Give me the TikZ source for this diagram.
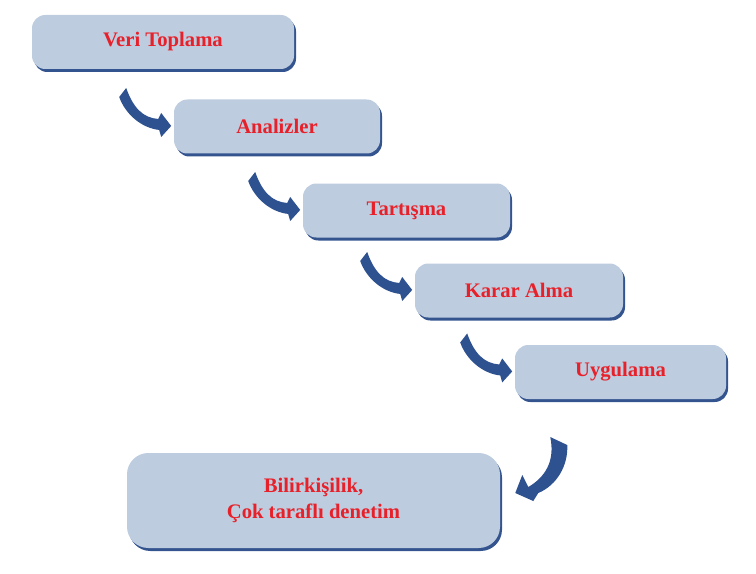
\documentclass[tikz,border=0pt]{standalone}
\usepackage{fontspec}
\setmainfont{Liberation Serif}
\usepackage{tikz}
\usetikzlibrary{shadows}
\definecolor{boxfill}{HTML}{BDCDDF}
\definecolor{boxshade}{HTML}{34548F}
\definecolor{arrowblue}{HTML}{2E5190}
\definecolor{steptext}{HTML}{E8202A}

\begin{document}
\begin{tikzpicture}[x=0.75pt, y=-0.75pt,
  stepbox/.style={fill=boxfill, rounded corners=10pt, minimum height=40.5pt,
    inner sep=0pt, text=steptext, align=center,
    font=\bfseries\fontsize{15.5}{20}\selectfont,
    drop shadow={shadow xshift=1.5pt, shadow yshift=-2.25pt, fill=boxshade, opacity=1}}]
\useasboundingbox (0,0) rectangle (756,574);
%%%%% Boxes %%%%%
\node[stepbox, minimum width=196.5pt] (b1) at (163,42) {Veri Toplama};
\node[stepbox, minimum width=154.5pt] (b2) at (277,126.5) {Analizler};
\node[stepbox, minimum width=155.25pt] (b3) at (406.5,210.5) {Tartışma};
\node[stepbox, minimum width=156pt] (b4) at (519,290.5) {Karar Alma};
\node[stepbox, minimum width=158.25pt] (b5) at (620.5,372) {Uygulama};
\node[stepbox, minimum width=279.75pt, minimum height=71.25pt, rounded corners=16pt] (b6) at (313.5,500.5) {Bilirkişilik,\\Çok taraflı denetim};
%%%%% Arrows %%%%%
\fill[arrowblue, shift={(b2.west)}, xshift=-1.9pt, yshift=0.4pt] (-45,-38) -- (-52,-29) .. controls (-46,-12) and (-30,2) .. (-12,4) -- (-10,11) -- (0,0) -- (-10,-13) -- (-13,-7) .. controls (-28,-8) and (-38,-18) .. (-45,-38) -- cycle;
\fill[arrowblue, shift={(b3.west)}, xshift=-1.9pt, yshift=0.4pt] (-45,-38) -- (-52,-29) .. controls (-46,-12) and (-30,2) .. (-12,4) -- (-10,11) -- (0,0) -- (-10,-13) -- (-13,-7) .. controls (-28,-8) and (-38,-18) .. (-45,-38) -- cycle;
\fill[arrowblue, shift={(b4.west)}, xshift=-1.9pt, yshift=0.4pt] (-45,-38) -- (-52,-29) .. controls (-46,-12) and (-30,2) .. (-12,4) -- (-10,11) -- (0,0) -- (-10,-13) -- (-13,-7) .. controls (-28,-8) and (-38,-18) .. (-45,-38) -- cycle;
\fill[arrowblue, shift={(b5.west)}, xshift=-1.9pt, yshift=0.4pt] (-45,-38) -- (-52,-29) .. controls (-46,-12) and (-30,2) .. (-12,4) -- (-10,11) -- (0,0) -- (-10,-13) -- (-13,-7) .. controls (-28,-8) and (-38,-18) .. (-45,-38) -- cycle;
\fill[arrowblue, shift={(b6.east)}, xshift=11.25pt, yshift=5.6pt] (35,-56) -- (52,-48) .. controls (53,-28) and (42,-8) .. (23,0) -- (18,8) -- (0,0) -- (7,-18) -- (13,-6) .. controls (30,-16) and (40,-32) .. (35,-56) -- cycle;
\end{tikzpicture}
\end{document}
